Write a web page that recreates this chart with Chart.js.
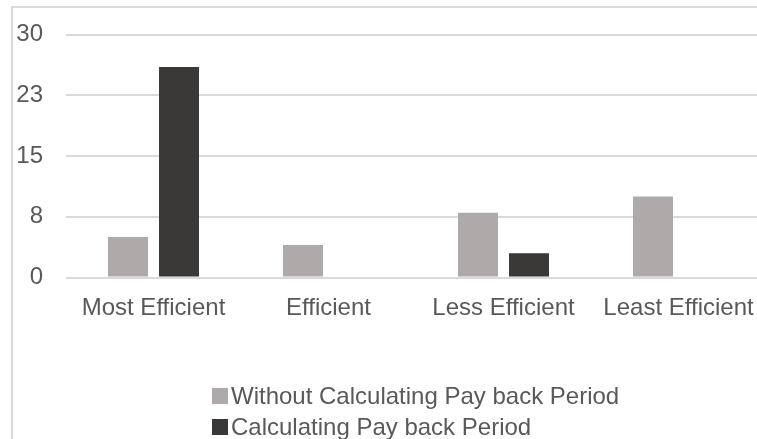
<!DOCTYPE html>
<html>
<head>
<meta charset="utf-8">
<script src="https://cdn.jsdelivr.net/npm/chart.js@4/dist/chart.umd.min.js"></script>
<style>
  html, body { margin: 0; padding: 0; background: #fff; overflow: hidden; }
  #wrap { position: relative; width: 757px; height: 439px; overflow: hidden; }
  #frame { position: absolute; left: 11px; top: 6px; width: 900px; height: 600px; border: 2px solid #d9d9d9; }
  #chart { position: absolute; left: 0; top: 0; }
</style>
</head>
<body>
<div id="wrap">
  <div id="frame"></div>
  <canvas id="chart" width="790" height="439"></canvas>
</div>
<script>
const categories = ['Most Efficient', 'Efficient', 'Less Efficient', 'Least Efficient'];
const withoutPayback = [5, 4, 8, 10];
const withPayback = [26, 0, 3, 0];
const seriesNames = ['Without Calculating Pay back Period', 'Calculating Pay back Period'];
const seriesColors = ['#aeaaaa', '#3b3838'];
const yTickValues = [0, 7.5, 15, 22.5, 30];
const yTickLabels = ['0', '8', '15', '23', '30'];

const fontFamily = '"Liberation Sans", Arial, Helvetica, sans-serif';
const textColor = '#595959';

// legend drawn as a block centred under the plot, rows left aligned (Excel style)
const stackedLegend = {
    id: 'stackedLegend',
    afterDraw(chart) {
        const ctx = chart.ctx;
        const area = chart.chartArea;
        const xs = chart.scales.x;
        const box = 16, gap = 3;
        ctx.save();
        ctx.font = '24px ' + fontFamily;
        const items = chart.data.datasets;
        const widest = Math.max(...items.map(d => ctx.measureText(d.label).width)) + box + gap;
        const left = Math.round((area.left + area.right) / 2 - widest / 2);
        items.forEach((d, i) => {
            const cy = xs.bottom + 72.5 + i * 31;
            ctx.fillStyle = d.backgroundColor;
            ctx.fillRect(left, cy - 8, box, box);
            ctx.fillStyle = textColor;
            ctx.textBaseline = 'middle';
            ctx.textAlign = 'left';
            ctx.fillText(d.label, left + box + gap, cy + 1);
        });
        ctx.restore();
    }
};

new Chart(document.getElementById('chart'), {
    type: 'bar',
    data: {
        labels: categories,
        datasets: [
            { label: seriesNames[0], data: withoutPayback, backgroundColor: seriesColors[0] },
            { label: seriesNames[1], data: withPayback, backgroundColor: seriesColors[1] }
        ]
    },
    options: {
        responsive: false,
        animation: false,
        devicePixelRatio: 1,
        categoryPercentage: 0.583,
        barPercentage: 0.784,
        layout: { padding: { top: 34.5, left: 16, right: 24, bottom: 115.5 } },
        plugins: {
            legend: { display: false },
            tooltip: { enabled: false }
        },
        scales: {
            x: {
                grid: { display: false, drawTicks: false },
                border: { display: false },
                ticks: {
                    color: textColor,
                    font: { family: fontFamily, size: 24 },
                    padding: 16,
                    maxRotation: 0,
                    autoSkip: false
                },
                afterFit: s => {
                    s.height = 46;
                    s.paddingLeft = 0;
                    s.paddingRight = 0;
                }
            },
            y: {
                min: 0,
                max: 30,
                afterBuildTicks: axis => { axis.ticks = yTickValues.map(v => ({ value: v })); },
                grid: { color: '#d9d9d9', lineWidth: 2, drawTicks: false },
                border: { display: false },
                ticks: {
                    color: textColor,
                    font: { family: fontFamily, size: 24 },
                    padding: 23,
                    callback: (v) => yTickLabels[yTickValues.indexOf(v)]
                },
                afterFit: s => {
                    s.width = 50;
                    s.paddingTop = 0;
                    s.paddingBottom = 0;
                }
            }
        }
    },
    plugins: [stackedLegend]
});
</script>
</body>
</html>
